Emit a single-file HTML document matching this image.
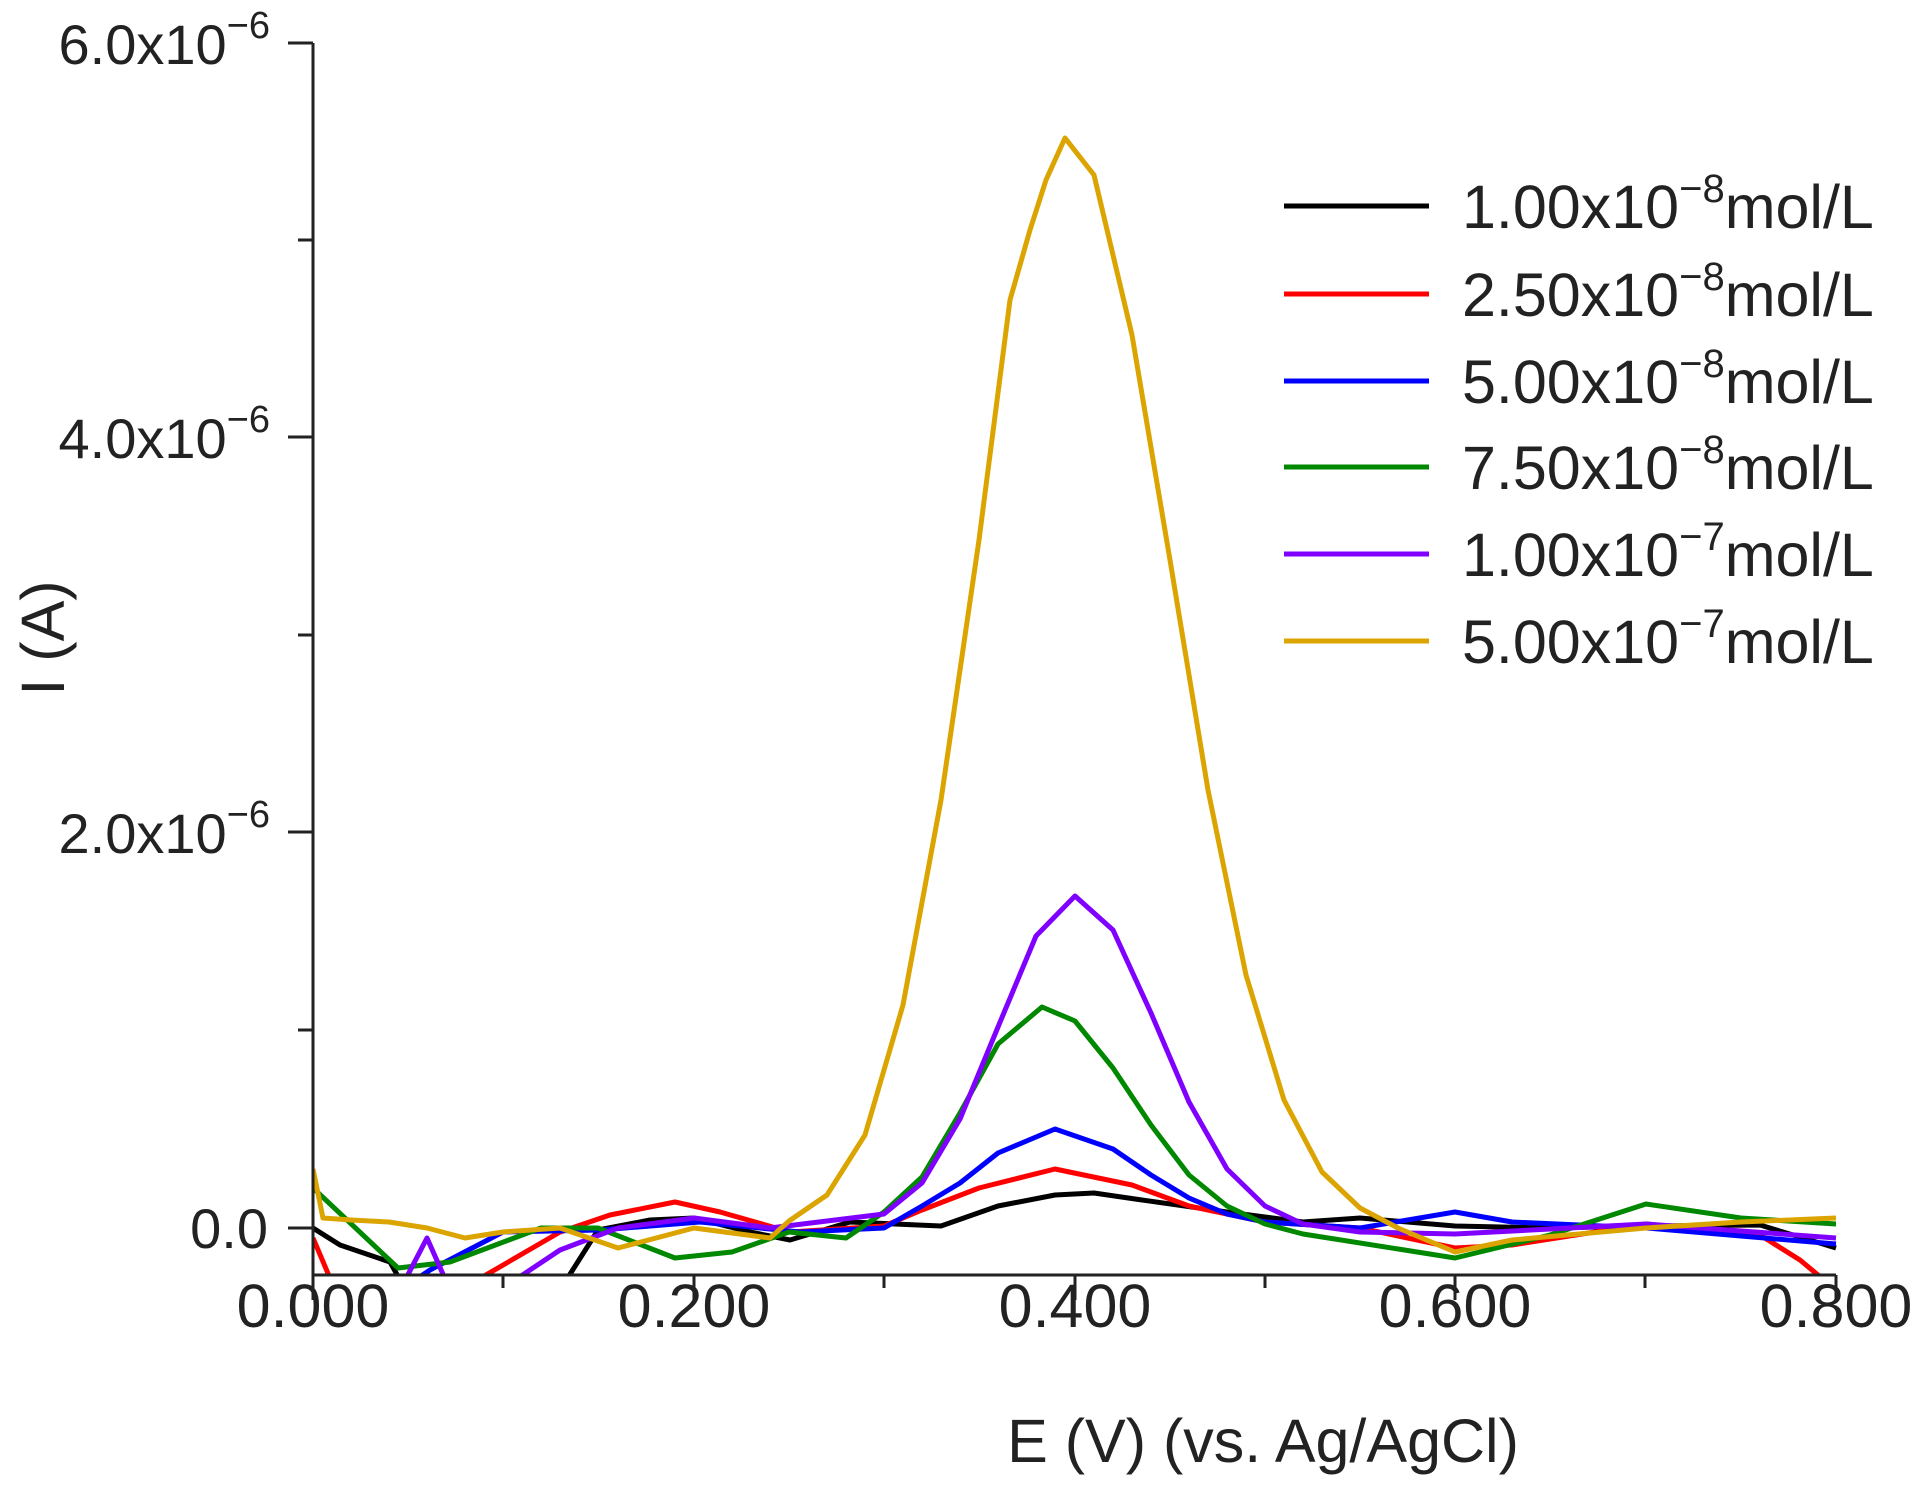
<!DOCTYPE html>
<html><head><meta charset="utf-8"><style>
html,body{margin:0;padding:0;background:#fff;}
svg{display:block;font-family:"Liberation Sans",Arial,sans-serif;}
</style></head><body>
<svg width="1923" height="1486" viewBox="0 0 1923 1486" xmlns="http://www.w3.org/2000/svg">
<defs><clipPath id="c"><rect x="313" y="30" width="1525" height="1245"/></clipPath></defs>
<g clip-path="url(#c)" fill="none" stroke-width="5" stroke-linejoin="round">
<polyline stroke="#000" points="313,1228 340,1245 390,1262 400,1280 480,1290 560,1290 598,1230 650,1220 694,1218 750,1232 790,1240 850,1222 941,1226 998,1206 1055,1195 1094,1193 1142,1200 1227,1212 1303,1222 1360,1218 1455,1226 1550,1228 1646,1226 1760,1225 1836,1248"/>
<polyline stroke="#f00" points="313,1238 335,1290 460,1290 560,1232 610,1215 675,1202 720,1212 790,1232 884,1226 922,1210 979,1188 1055,1169 1132,1185 1189,1206 1265,1222 1360,1228 1455,1248 1512,1245 1646,1224 1760,1235 1800,1260 1836,1290"/>
<polyline stroke="#00f" points="313,1290 360,1285 400,1290 430,1270 503,1232 600,1230 700,1222 800,1232 884,1228 922,1206 960,1183 998,1153 1055,1129 1113,1149 1151,1175 1189,1198 1227,1214 1265,1222 1360,1228 1455,1212 1512,1222 1646,1228 1836,1244"/>
<polyline stroke="#080" points="313,1188 398,1268 450,1262 541,1228 598,1228 675,1258 732,1252 789,1232 846,1238 884,1212 922,1177 960,1113 998,1044 1042,1007 1075,1021 1113,1068 1151,1125 1189,1175 1227,1206 1265,1224 1303,1234 1455,1258 1550,1235 1646,1204 1741,1218 1836,1224"/>
<polyline stroke="#8000ff" points="313,1290 400,1290 427,1238 450,1290 500,1290 560,1250 618,1228 694,1218 770,1228 884,1214 922,1183 960,1119 998,1027 1036,936 1075,896 1113,930 1151,1013 1189,1102 1227,1169 1265,1206 1303,1224 1360,1232 1455,1234 1646,1224 1836,1238"/>
<polyline stroke="#dba400" points="313,1169 323,1218 351,1220 389,1222 427,1228 465,1238 503,1232 560,1228 618,1248 694,1228 770,1238 789,1221 827,1195 865,1135 903,1005 941,800 979,540 1010,300 1030,230 1046,180 1065,138 1094,175 1132,335 1170,560 1208,790 1246,975 1284,1100 1322,1172 1360,1208 1398,1228 1455,1252 1512,1240 1646,1228 1741,1222 1836,1218"/>
</g>
<g stroke="#222" stroke-width="3" fill="none">
<path d="M313,43 V1275 H1836"/>
<path d="M288,43 H313 M288,437 H313 M288,832 H313 M288,1228 H313 M298,240 H313 M298,635 H313 M298,1030 H313"/>
<path d="M313,1275 V1300 M694,1275 V1300 M1075,1275 V1300 M1455,1275 V1300 M1836,1275 V1300 M503,1275 V1288 M884,1275 V1288 M1265,1275 V1288 M1645,1275 V1288"/>
</g>
<g font-size="56" fill="#222" text-anchor="end">
<text x="270" y="64">6.0x10<tspan font-size="38" dy="-26">−6</tspan></text>
<text x="270" y="458">4.0x10<tspan font-size="38" dy="-26">−6</tspan></text>
<text x="270" y="853">2.0x10<tspan font-size="38" dy="-26">−6</tspan></text>
<text x="268" y="1248">0.0</text>
</g>
<g font-size="61" fill="#222" text-anchor="middle">
<text x="313" y="1327">0.000</text>
<text x="694" y="1327">0.200</text>
<text x="1075" y="1327">0.400</text>
<text x="1455" y="1327">0.600</text>
<text x="1836" y="1327">0.800</text>
<text x="1263" y="1462">E (V) (vs. Ag/AgCl)</text>
<text transform="translate(64,638) rotate(-90)">I (A)</text>
</g>
<g stroke-width="5">
<line x1="1284" y1="206" x2="1429" y2="206" stroke="#000"/>
<line x1="1284" y1="294" x2="1429" y2="294" stroke="#f00"/>
<line x1="1284" y1="381" x2="1429" y2="381" stroke="#00f"/>
<line x1="1284" y1="467" x2="1429" y2="467" stroke="#080"/>
<line x1="1284" y1="554" x2="1429" y2="554" stroke="#8000ff"/>
<line x1="1284" y1="641" x2="1429" y2="641" stroke="#dba400"/>
</g>
<g font-size="61" fill="#222">
<text x="1462" y="228">1.00x10<tspan font-size="40" dy="-26">−8</tspan><tspan dy="26">mol/L</tspan></text>
<text x="1462" y="316">2.50x10<tspan font-size="40" dy="-26">−8</tspan><tspan dy="26">mol/L</tspan></text>
<text x="1462" y="403">5.00x10<tspan font-size="40" dy="-26">−8</tspan><tspan dy="26">mol/L</tspan></text>
<text x="1462" y="489">7.50x10<tspan font-size="40" dy="-26">−8</tspan><tspan dy="26">mol/L</tspan></text>
<text x="1462" y="576">1.00x10<tspan font-size="40" dy="-26">−7</tspan><tspan dy="26">mol/L</tspan></text>
<text x="1462" y="663">5.00x10<tspan font-size="40" dy="-26">−7</tspan><tspan dy="26">mol/L</tspan></text>
</g>
</svg>
</body></html>
